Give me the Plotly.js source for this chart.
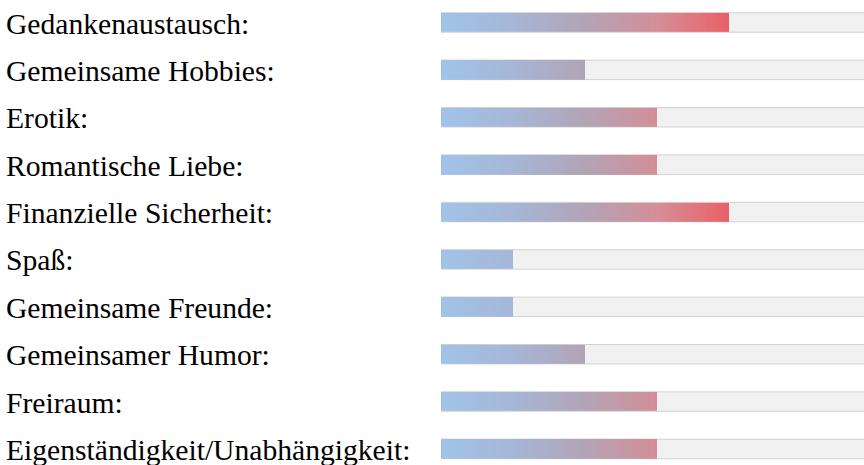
<!DOCTYPE html>
<html>
<head>
<meta charset="utf-8">
<script src="https://cdn.plot.ly/plotly-3.0.1.min.js"></script>
<style>html,body{margin:0;padding:0;background:#fff;}#chart{width:864px;height:465px;}</style>
</head>
<body>
<div id="chart"></div>
<script>
const categories = [
  "Gedankenaustausch",
  "Gemeinsame Hobbies",
  "Erotik",
  "Romantische Liebe",
  "Finanzielle Sicherheit",
  "Spaß",
  "Gemeinsame Freunde",
  "Gemeinsamer Humor",
  "Freiraum",
  "Eigenständigkeit/Unabhängigkeit"
];
const values = [4, 2, 3, 3, 4, 1, 1, 2, 3, 3];
const scaleMax = 6;
const gradientMax = 4;

// fine horizontal steps so the gradient is tied to the axis position
const step = 0.02;
const xs = [];
for (let v = step / 2; v < gradientMax; v += step) xs.push(+v.toFixed(4));
const z = values.map(val => xs.map(x => (x < val ? x : null)));

const track = {
  type: 'bar', orientation: 'h',
  x: categories.map(() => scaleMax), y: categories,
  width: 0.41,
  marker: {color: '#f1f1f1', line: {color: '#d2d2d2', width: 1}},
  hoverinfo: 'skip', showlegend: false,
  xaxis: 'x', yaxis: 'y'
};
const fill = {
  type: 'heatmap',
  x: xs, y: categories, z: z,
  zmin: 0, zmax: gradientMax,
  colorscale: [
    [0, '#a0c4e8'],
    [0.25, '#a6b6d6'],
    [0.5, '#b2a4b6'],
    [0.75, '#d48e98'],
    [1, '#ea6066']
  ],
  showscale: false, ygap: 28, xgap: 0,
  hoverinfo: 'skip',
  xaxis: 'x2', yaxis: 'y2'
};

const yRange = [9.338, -0.475];
const xRange = [0, 5.875];
const annotations = categories.map(c => ({
  xref: 'paper', x: 4 / 864, xanchor: 'left',
  yref: 'y', y: c, yanchor: 'middle', yshift: -1,
  text: c + ':', showarrow: false,
  font: {family: 'Liberation Serif, Times New Roman, serif', size: 29.6, color: '#000'}
}));

const layout = {
  width: 864, height: 465,
  margin: {l: 0, r: 0, t: 0, b: 0, pad: 0},
  paper_bgcolor: '#fff', plot_bgcolor: 'rgba(0,0,0,0)',
  showlegend: false,
  xaxis: {domain: [441 / 864, 1], range: xRange, visible: false, fixedrange: true},
  yaxis: {type: 'category', range: yRange, visible: false, fixedrange: true},
  xaxis2: {overlaying: 'x', range: xRange, visible: false, fixedrange: true},
  yaxis2: {overlaying: 'y', type: 'category', range: yRange, visible: false, fixedrange: true},
  annotations: annotations
};

Plotly.newPlot('chart', [track, fill], layout, {staticPlot: true, displayModeBar: false});
</script>
</body>
</html>
